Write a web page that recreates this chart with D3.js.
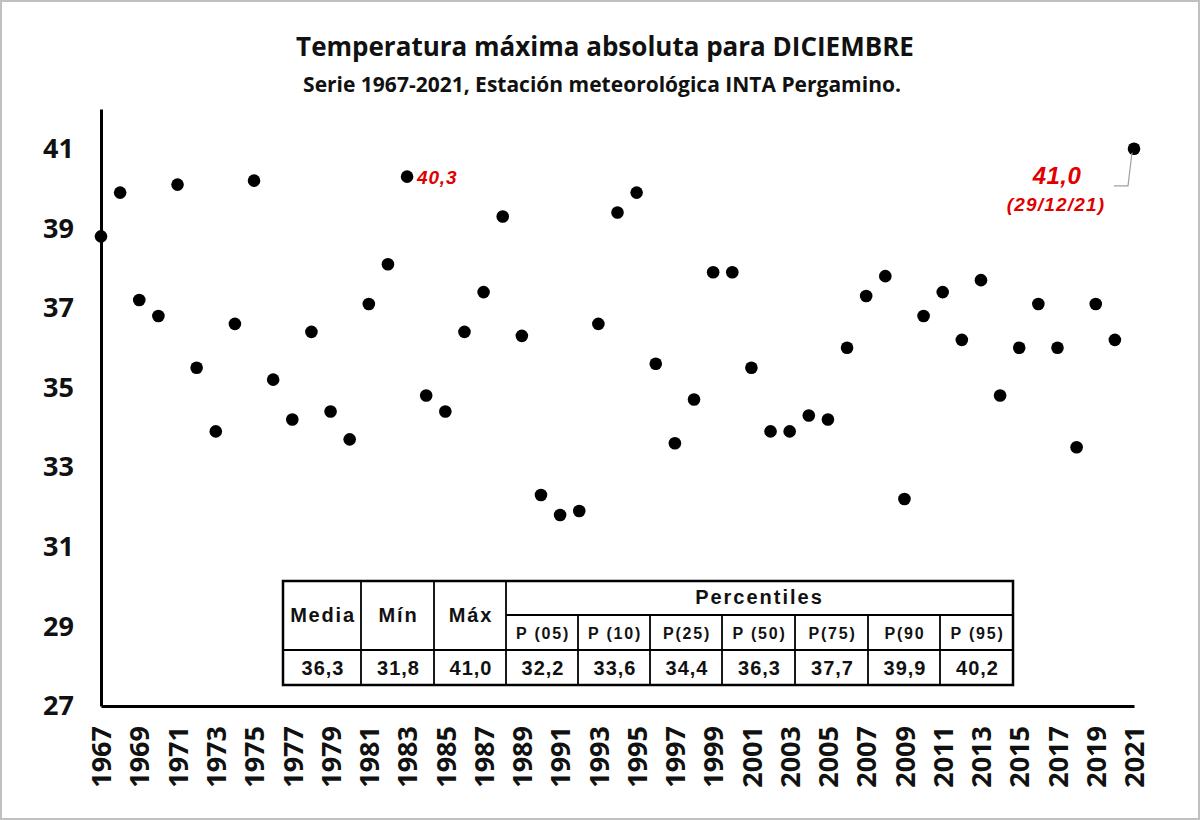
<!DOCTYPE html>
<html>
<head>
<meta charset="utf-8">
<script src="https://cdn.jsdelivr.net/npm/d3@7"></script>
<style>
  body { margin: 0; background: #fff; }
  svg { display: block; }
</style>
</head>
<body>
<div id="chart"></div>
<script>
var W = 1200, H = 820;

// Data
var years = d3.range(1967, 2022);
var tmax = [38.8, 39.9, 37.2, 36.8, 40.1, 35.5, 33.9, 36.6, 40.2, 35.2,
            34.2, 36.4, 34.4, 33.7, 37.1, 38.1, 40.3, 34.8, 34.4, 36.4,
            37.4, 39.3, 36.3, 32.3, 31.8, 31.9, 36.6, 39.4, 39.9, 35.6,
            33.6, 34.7, 37.9, 37.9, 35.5, 33.9, 33.9, 34.3, 34.2, 36.0,
            37.3, 37.8, 32.2, 36.8, 37.4, 36.2, 37.7, 34.8, 36.0, 37.1,
            36.0, 33.5, 37.1, 36.2, 41.0];
var yTicks = [27, 29, 31, 33, 35, 37, 39, 41];
var xTicks = d3.range(1967, 2022, 2);

// table
var statHeaders = ["Media", "Mín", "Máx"];
var statValues = ["36,3", "31,8", "41,0"];
var pctHeaders = ["P (05)", "P (10)", "P(25)", "P (50)", "P(75)", "P(90", "P (95)"];
var pctValues = ["32,2", "33,6", "34,4", "36,3", "37,7", "39,9", "40,2"];

var svg = d3.select("#chart").append("svg")
    .attr("width", W)
    .attr("height", H);

svg.append("rect")
    .attr("x", 1).attr("y", 1)
    .attr("width", W - 2).attr("height", H - 2)
    .attr("fill", "#fff")
    .attr("stroke", "#c0c0c0")
    .attr("stroke-width", 2);

var x = d3.scaleLinear().domain([1967, 2021]).range([101, 1134]);
var y = d3.scaleLinear().domain([27, 42]).range([706, 109]);

// titles
svg.append("text")
    .attr("x", 605).attr("y", 56)
    .attr("text-anchor", "middle")
    .attr("font-family", "Open Sans")
    .attr("font-weight", "bold")
    .attr("font-size", 26)
    .attr("fill", "#111")
    .text("Temperatura máxima absoluta para DICIEMBRE");

svg.append("text")
    .attr("x", 602).attr("y", 92)
    .attr("text-anchor", "middle")
    .attr("font-family", "Open Sans")
    .attr("font-weight", "bold")
    .attr("font-size", 21)
    .attr("fill", "#111")
    .text("Serie 1967-2021, Estación meteorológica INTA Pergamino.");

// y axis
var yAxis = svg.append("g")
    .attr("transform", "translate(101,0)")
    .call(d3.axisLeft(y).tickValues(yTicks).tickSize(0).tickSizeOuter(0).tickPadding(27));
yAxis.select(".domain").attr("stroke", "#000").attr("stroke-width", 3);
yAxis.selectAll("text")
    .attr("font-family", "Open Sans")
    .attr("font-weight", "bold")
    .attr("font-size", 27)
    .attr("fill", "#111");

// x axis
var xAxis = svg.append("g")
    .attr("transform", "translate(0,706)")
    .call(d3.axisBottom(x).tickValues(xTicks).tickFormat(d3.format("d")).tickSize(0).tickSizeOuter(0));
xAxis.select(".domain").attr("stroke", "#000").attr("stroke-width", 3);
xAxis.selectAll("text")
    .attr("font-family", "Open Sans")
    .attr("font-weight", "bold")
    .attr("font-size", 27)
    .attr("fill", "#111")
    .attr("text-anchor", "end")
    .attr("transform", "rotate(-90)")
    .attr("x", -20)
    .attr("y", 0)
    .attr("dy", "0.36em");

// points
svg.append("g").selectAll("circle")
    .data(years)
    .join("circle")
    .attr("cx", function(d) { return x(d); })
    .attr("cy", function(d, i) { return y(tmax[i]); })
    .attr("r", 6.3)
    .attr("fill", "#000");

// annotations
svg.append("text")
    .attr("x", x(1983) + 10).attr("y", y(40.3) + 7)
    .attr("font-family", "Liberation Sans")
    .attr("font-weight", "bold")
    .attr("font-style", "italic")
    .attr("font-size", 19)
    .attr("letter-spacing", 0.8)
    .attr("fill", "#e00000")
    .text("40,3");

svg.append("path")
    .attr("d", "M" + (x(2021) - 20) + "," + (y(41) + 37) + "H" + (x(2021) - 6) + "L" + (x(2021) - 2) + "," + (y(41) + 4))
    .attr("fill", "none")
    .attr("stroke", "#a0a0a0")
    .attr("stroke-width", 1.2);

svg.append("text")
    .attr("x", 1057).attr("y", 184)
    .attr("text-anchor", "middle")
    .attr("font-family", "Liberation Sans")
    .attr("font-weight", "bold")
    .attr("font-style", "italic")
    .attr("font-size", 24)
    .attr("letter-spacing", 0.5)
    .attr("fill", "#e00000")
    .text("41,0");

svg.append("text")
    .attr("x", 1056).attr("y", 211)
    .attr("text-anchor", "middle")
    .attr("font-family", "Liberation Sans")
    .attr("font-weight", "bold")
    .attr("font-style", "italic")
    .attr("font-size", 19)
    .attr("letter-spacing", 1.2)
    .attr("fill", "#e00000")
    .text("(29/12/21)");

// statistics table
var tb = svg.append("g");
var colX = [283, 361, 434, 506, 578, 650, 722, 795, 868, 940, 1013];
var rowY = [581, 615, 650, 685];

tb.append("rect")
    .attr("x", colX[0]).attr("y", rowY[0])
    .attr("width", colX[10] - colX[0]).attr("height", rowY[3] - rowY[0])
    .attr("fill", "#fff")
    .attr("stroke", "#000")
    .attr("stroke-width", 2.5);

var lines = [];
colX.slice(1, 10).forEach(function(cx, i) {
  lines.push([cx, i < 3 ? rowY[0] : rowY[1], cx, rowY[3]]);
});
lines.push([colX[3], rowY[1], colX[10], rowY[1]]);
lines.push([colX[0], rowY[2], colX[10], rowY[2]]);

tb.selectAll("line")
    .data(lines)
    .join("line")
    .attr("x1", function(d) { return d[0]; })
    .attr("y1", function(d) { return d[1]; })
    .attr("x2", function(d) { return d[2]; })
    .attr("y2", function(d) { return d[3]; })
    .attr("stroke", "#000")
    .attr("stroke-width", 1.8);

function cellText(sel, fs, ls) {
  return sel.attr("text-anchor", "middle")
    .attr("font-family", "Liberation Sans")
    .attr("font-weight", "bold")
    .attr("font-size", fs)
    .attr("letter-spacing", ls)
    .attr("fill", "#111");
}

statHeaders.forEach(function(t, i) {
  cellText(tb.append("text"), 20, 1.8)
    .attr("x", (colX[i] + colX[i + 1]) / 2 + 1)
    .attr("y", 622)
    .text(t);
  cellText(tb.append("text"), 20, 1)
    .attr("x", (colX[i] + colX[i + 1]) / 2 + 1)
    .attr("y", 675)
    .text(statValues[i]);
});

cellText(tb.append("text"), 20, 2)
    .attr("x", (colX[3] + colX[10]) / 2)
    .attr("y", 604)
    .text("Percentiles");

pctHeaders.forEach(function(t, i) {
  cellText(tb.append("text"), 16, 1.8)
    .attr("x", (colX[i + 3] + colX[i + 4]) / 2 + 1)
    .attr("y", 639)
    .text(t);
  cellText(tb.append("text"), 20, 1)
    .attr("x", (colX[i + 3] + colX[i + 4]) / 2 + 1)
    .attr("y", 675)
    .text(pctValues[i]);
});
</script>
</body>
</html>
